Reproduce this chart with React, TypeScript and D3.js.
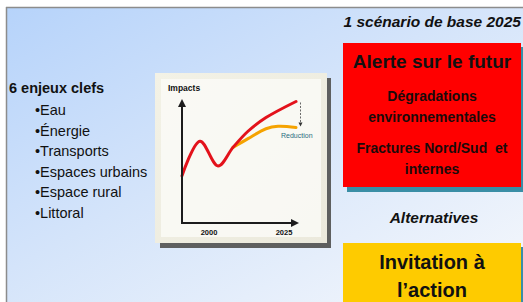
import React from 'react';
import * as d3 from 'd3';

// slide text
const enjeuxTitle = '6 enjeux clefs';
const enjeux = ['Eau', 'Énergie', 'Transports', 'Espaces urbains', 'Espace rural', 'Littoral'];
const alerteLines = ['Dégradations', 'environnementales'];
const fractureLines = ['Fractures Nord/Sud  et', 'internes'];
const actionLines = ['Invitation à', 'l’action'];

// little chart in the card
const yearTicks = [2000, 2025];
const baseYears = [1991, 1997, 2003, 2008, 2013, 2019, 2029];
const baseImpacts = [38, 66, 46, 61, 74, 85, 98];
const altYears = [2008, 2013, 2019, 2023, 2029];
const altImpacts = [61, 68, 76, 78, 77];

const W = 523,
  H = 302;
const font = '"Liberation Sans", Arial, sans-serif';

export default function App() {
  const x = d3.scaleLinear().domain([1991, 2030]).range([182, 299]);
  const y = d3.scaleLinear().domain([0, 100]).range([223, 99]);

  const line = d3
    .line<[number, number]>()
    .x(d => x(d[0]))
    .y(d => y(d[1]))
    .curve(d3.curveCatmullRom.alpha(0.5));

  const basePts = baseYears.map((yr, i) => [yr, baseImpacts[i]] as [number, number]);
  const altPts = altYears.map((yr, i) => [yr, altImpacts[i]] as [number, number]);

  const x0 = x(1991),
    y0 = y(0),
    yTop = y(100),
    xEnd = x(2030);
  const redX = x(2030.5);
  const redTop = y(baseImpacts[baseImpacts.length - 1]) + 1;
  const redBot = y(altImpacts[altImpacts.length - 1]) - 1;

  return (
    <svg
      width={W}
      height={H}
      style={{ position: 'absolute', left: 0, top: 0, display: 'block' }}
      fontFamily={font}
    >
      <defs>
        <linearGradient id="bg" x1="0" y1="0" x2="1" y2="1">
          <stop offset="0" stopColor="#b6d3fa" />
          <stop offset="0.45" stopColor="#d4e4fa" />
          <stop offset="1" stopColor="#f6f8fc" />
        </linearGradient>
        <linearGradient id="card" x1="0" y1="0" x2="1" y2="1">
          <stop offset="0" stopColor="#f3f2e6" />
          <stop offset="1" stopColor="#ebe9dc" />
        </linearGradient>
      </defs>
      <rect width={W} height={H} fill="#ffffff" />
      <rect x={6} y={7} width={W - 6} height={H - 7} fill="url(#bg)" />
      <line x1={6} y1={7.5} x2={W} y2={7.5} stroke="#8c8c8c" strokeWidth={1.5} />
      <line x1={6.5} y1={7} x2={6.5} y2={H} stroke="#8c8c8c" strokeWidth={1.5} />

      {/* left list */}
      <text x={9} y={93} fontSize={14.5} fontWeight="bold" fill="#111">
        {enjeuxTitle}
      </text>
      {enjeux.map((d, i) => (
        <text key={d} x={35} y={115 + i * 20.6} fontSize={14.5} fill="#111">
          {'•' + d}
        </text>
      ))}

      {/* chart card */}
      <rect x={160} y={78} width={171} height={170} fill="#5e5f5f" />
      <rect x={155} y={73} width={172} height={170} fill="url(#card)" />
      <rect x={161} y={79} width={160} height={158} fill="#fbfbf7" opacity={0.8} />
      <text x={168} y={91} fontSize={8.5} fontWeight="bold" fill="#111">
        Impacts
      </text>
      <path d={line(altPts) || ''} fill="none" stroke="#f5a300" strokeWidth={3} strokeLinecap="round" />
      <path d={line(basePts) || ''} fill="none" stroke="#e3121b" strokeWidth={3} strokeLinecap="round" />
      <line x1={x0} y1={y0} x2={x0} y2={yTop + 6} stroke="#1c1c1c" strokeWidth={2} />
      <path d={`M${x0 - 4},${yTop + 8} L${x0},${yTop} L${x0 + 4},${yTop + 8} Z`} fill="#1c1c1c" />
      <line x1={x0 - 1} y1={y0} x2={xEnd - 6} y2={y0} stroke="#1c1c1c" strokeWidth={2} />
      <path d={`M${xEnd - 8},${y0 - 4} L${xEnd},${y0} L${xEnd - 8},${y0 + 4} Z`} fill="#1c1c1c" />
      {yearTicks.map(t => (
        <text key={t} x={x(t)} y={235} fontSize={7.5} fontWeight="bold" textAnchor="middle" fill="#111">
          {t}
        </text>
      ))}
      <line x1={redX} y1={redTop} x2={redX} y2={redBot - 3} stroke="#444" strokeWidth={0.8} strokeDasharray="2,1.5" />
      <path d={`M${redX - 2},${redBot - 4} L${redX},${redBot} L${redX + 2},${redBot - 4} Z`} fill="#333" />
      <text x={281} y={138} fontSize={7} fill="#2b6c80">
        Reduction
      </text>

      {/* right column */}
      <text x={521} y={27} fontSize={15.5} fontWeight="bold" fontStyle="italic" textAnchor="end" fill="#111">
        1 scénario de base 2025
      </text>
      <rect x={347} y={47} width={178} height={145} fill="#3a8ea6" />
      <rect x={343} y={43} width={178} height={144} fill="#ff0000" />
      <text x={432} y={68} fontSize={19} fontWeight="bold" textAnchor="middle" fill="#111">
        Alerte sur le futur
      </text>
      {alerteLines.map((d, i) => (
        <text key={d} x={432} y={101 + i * 21} fontSize={14} fontWeight="bold" textAnchor="middle" fill="#1a0a0a">
          {d}
        </text>
      ))}
      {fractureLines.map((d, i) => (
        <text
          key={d}
          x={432}
          y={153 + i * 21}
          fontSize={14}
          fontWeight="bold"
          textAnchor="middle"
          fill="#1a0a0a"
          style={{ whiteSpace: 'pre' }}
        >
          {d}
        </text>
      ))}
      <text x={434} y={223} fontSize={15.5} fontWeight="bold" fontStyle="italic" textAnchor="middle" fill="#111">
        Alternatives
      </text>
      <rect x={347} y={247} width={178} height={60} fill="#3a8ea6" />
      <rect x={343} y={243} width={178} height={64} fill="#fecb00" />
      {actionLines.map((d, i) => (
        <text key={d} x={432} y={269 + i * 28} fontSize={20} fontWeight="bold" textAnchor="middle" fill="#111">
          {d}
        </text>
      ))}
    </svg>
  );
}
